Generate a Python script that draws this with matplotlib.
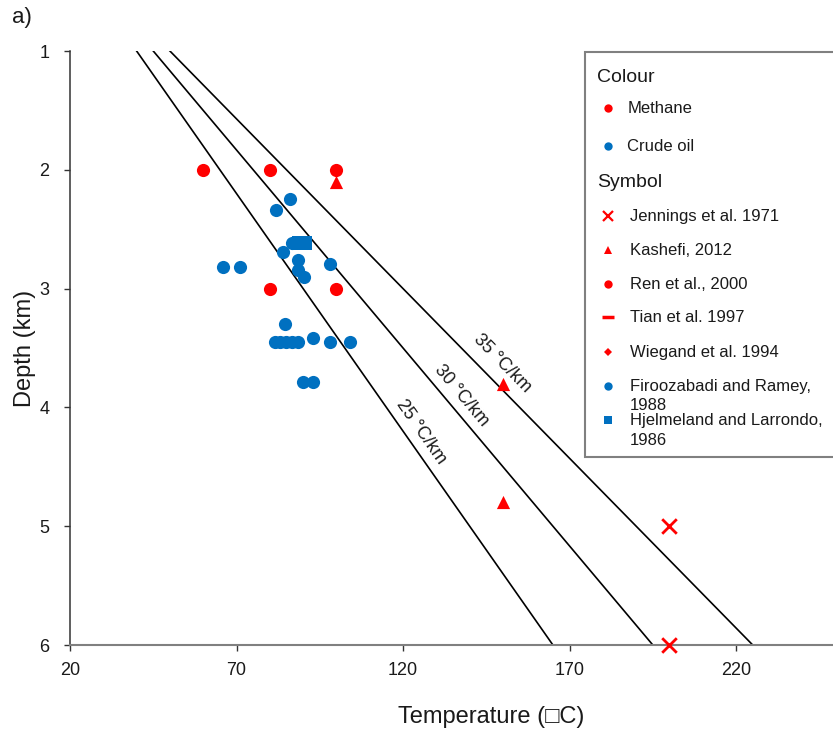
import numpy as np
import matplotlib
matplotlib.use("Agg")
import matplotlib.pyplot as plt

plt.rcParams["font.family"] = ["Liberation Sans", "DejaVu Sans"]

# ---------------------------------------------------------------------------
# Data
# ---------------------------------------------------------------------------
SURFACE_T = 15
GRADIENTS = [25, 30, 35]
GRAD_DEPTHS = [1, 6]

ren_T = [60, 80, 100, 80, 100]
ren_d = [2.0, 2.0, 2.0, 3.0, 3.0]

kashefi_T = [100, 150, 150]
kashefi_d = [2.1, 3.8, 4.8]

jennings_T = [200, 200]
jennings_d = [5.0, 6.0]

firoozabadi_T = [86, 82, 86.7, 84, 66, 71, 88.6, 88.6, 90.3, 98, 84.6,
                 81.6, 83.1, 84.9, 86.6, 88.6, 93, 98, 104, 90, 93]
firoozabadi_d = [2.25, 2.34, 2.62, 2.69, 2.82, 2.82, 2.76, 2.84, 2.90, 2.79, 3.30,
                 3.45, 3.45, 3.45, 3.45, 3.45, 3.42, 3.45, 3.45, 3.79, 3.79]

hjelmeland_T = [88.8, 90.6]
hjelmeland_d = [2.62, 2.62]

RED = "#FF0000"
BLUE = "#0070C0"

W, H = 833, 735
fig = plt.figure(figsize=(W / 100, H / 100), dpi=100)
ax = fig.add_axes([70 / W, 1 - 645 / H, (836 - 70) / W, (645 - 51) / H])

ax.set_xlim(20, 250)
ax.set_ylim(6, 1)
ax.set_xticks(np.arange(20, 221, 50))
ax.set_yticks(np.arange(1, 7, 1))
for s in ("top", "right"):
    ax.spines[s].set_visible(False)
ax.spines["left"].set_color("#333333")
ax.spines["left"].set_linewidth(1.1)
ax.spines["bottom"].set_color("#808080")
ax.spines["bottom"].set_linewidth(1.5)
ax.tick_params(axis="both", direction="out", length=4, width=1.0,
               colors="#333333", labelsize=13, labelcolor="#1a1a1a")
ax.tick_params(axis="y", pad=11)
ax.tick_params(axis="x", pad=8)

# geothermal gradient lines
for g in GRADIENTS:
    d = np.array(GRAD_DEPTHS, dtype=float)
    ax.plot(SURFACE_T + g * d, d, color="black", lw=1.2, zorder=2)

# labels along the gradient lines
label_pos = {25: (125.5, 4.21), 30: (137.5, 3.90), 35: (149.8, 3.63)}
fig.canvas.draw()
for g, (tx, ty) in label_pos.items():
    p0 = ax.transData.transform((SURFACE_T + g * 1, 1))
    p1 = ax.transData.transform((SURFACE_T + g * 6, 6))
    ang = np.degrees(np.arctan2(p1[1] - p0[1], p1[0] - p0[0]))
    ax.text(tx, ty, f"{g} \u00b0C/km", rotation=ang, rotation_mode="anchor",
            ha="center", va="center", fontsize=13, color="#1a1a1a")

ms = 90
ax.scatter(firoozabadi_T, firoozabadi_d, s=ms, marker="o", color=BLUE,
           linewidths=0, zorder=3)
ax.scatter(hjelmeland_T, hjelmeland_d, s=ms, marker="s", color=BLUE,
           linewidths=0, zorder=3)
ax.scatter(ren_T, ren_d, s=ms, marker="o", color=RED, linewidths=0, zorder=3)
ax.scatter(kashefi_T, kashefi_d, s=ms, marker="^", color=RED, linewidths=0,
           zorder=3)
ax.scatter(jennings_T, jennings_d, s=110, marker="x", color=RED,
           linewidths=2.0, zorder=3, clip_on=False)

fig.text(25 / W, 1 - 348 / H, "Depth (km)", rotation=90, ha="center",
         va="center", fontsize=17, color="#1a1a1a")
fig.text(491 / W, 1 - 717 / H, "Temperature (\u25a1C)", ha="center",
         va="center", fontsize=17, color="#1a1a1a")
fig.text(12 / W, 1 - 18 / H, "a)", ha="left", va="center", fontsize=16,
         color="#1a1a1a")

# ---------------------------------------------------------------------------
# Legend drawn on an overlay in pixel coordinates
# ---------------------------------------------------------------------------
lg = fig.add_axes([0, 0, 1, 1], zorder=5)
lg.set_xlim(0, W)
lg.set_ylim(H, 0)
lg.axis("off")
lg.patch.set_alpha(0)
lg.add_patch(plt.Rectangle((585, 52), 270, 405, facecolor="white",
                           edgecolor="#808080", lw=1.5))

headers = [("Colour", 77), ("Symbol", 182)]
for txt, y in headers:
    lg.text(597, y, txt, fontsize=14, va="center", ha="left", color="#1a1a1a")

entries = [
    ("o", RED, 6, "Methane", 108, 628),
    ("o", BLUE, 6, "Crude oil", 146, 627),
    ("x", RED, 7, "Jennings et al. 1971", 216, 630),
    ("^", RED, 6, "Kashefi, 2012", 250, 630),
    ("o", RED, 6, "Ren et al., 2000", 284, 630),
    ("_", RED, 8, "Tian et al. 1997", 317, 630),
    ("D", RED, 4.5, "Wiegand et al. 1994", 352, 630),
    ("o", BLUE, 6, "Firoozabadi and Ramey,", 386, 630),
    ("s", BLUE, 6, "Hjelmeland and Larrondo,", 420, 630),
]
for mk, col, size, txt, y, tx in entries:
    lw = 1.6 if mk == "x" else (2.5 if mk == "_" else 0)
    lg.plot([608], [y], marker=mk, color=col, markersize=size,
            markeredgewidth=lw, linestyle="none")
    lg.text(tx, y, txt, fontsize=12, va="center", ha="left", color="#1a1a1a")
lg.text(630, 405, "1988", fontsize=12, va="center", ha="left", color="#1a1a1a")
lg.text(630, 440, "1986", fontsize=12, va="center", ha="left", color="#1a1a1a")

fig.savefig("out.png", dpi=100)
